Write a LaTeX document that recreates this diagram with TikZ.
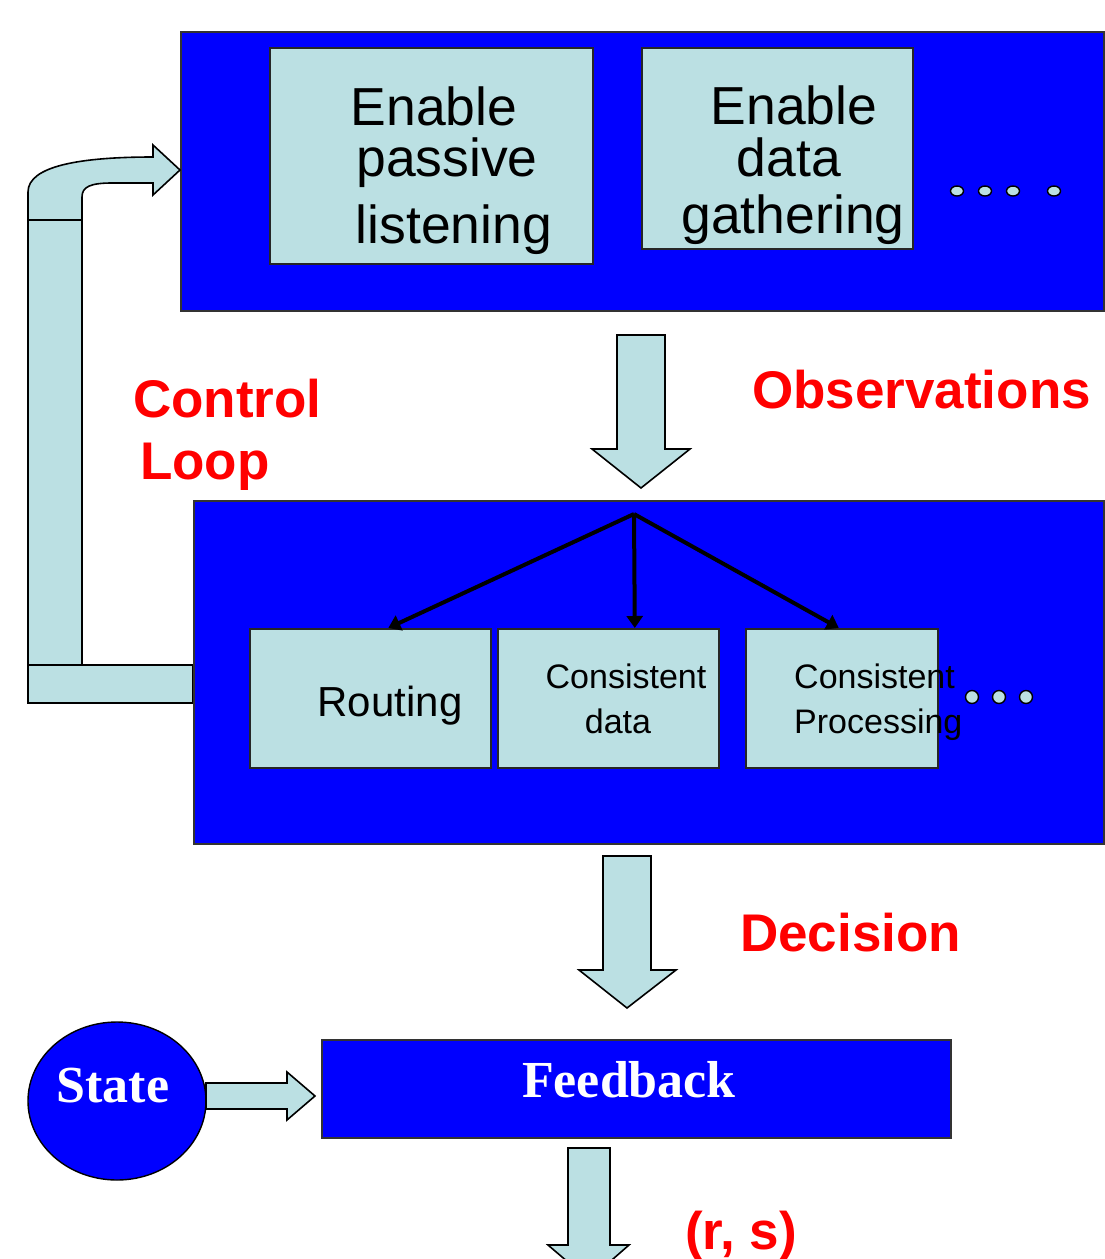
\documentclass[tikz,border=0pt]{standalone}
\usepackage{fontspec}
\setmainfont{Liberation Sans}
\newfontfamily\timesfont{Liberation Serif}
\usetikzlibrary{arrows.meta,calc}

\definecolor{panelblue}{RGB}{0,0,255}
\definecolor{paleteal}{RGB}{187,224,227}
\definecolor{labelred}{RGB}{255,0,0}

\tikzset{
  panel/.style={draw=black!80, line width=1.6pt, fill=panelblue, inner sep=0pt, anchor=north west},
  lbox/.style={draw=black!85, line width=1.6pt, fill=paleteal, inner sep=0pt, anchor=north west},
  blockarrow/.style={draw=black, line width=1.6pt, fill=paleteal, line join=miter},
  dotmark/.style={draw=black, line width=1.4pt, fill=paleteal},
  boxtext/.style={inner sep=0pt, anchor=base, font=\fontsize{53.5}{60}\selectfont},
  smalltext/.style={inner sep=0pt, font=\fontsize{34}{40}\selectfont},
  redlabel/.style={inner sep=0pt, anchor=base west, text=labelred, font=\fontsize{53}{60}\selectfont\bfseries},
  whitelabel/.style={inner sep=0pt, anchor=base, text=white, font=\fontsize{52}{60}\selectfont\timesfont\bfseries},
  fork/.style={line width=4pt, -{Triangle[length=12pt,width=16pt]}}
}

\begin{document}
\begin{tikzpicture}[x=1pt,y=-1pt]
\useasboundingbox (0,0) rectangle (1104,1259);

% ---- top panel: sensing ----
\node[panel, minimum width=923pt, minimum height=279pt] (sense) at (180,31) {};
\node[lbox, minimum width=323pt, minimum height=216pt] (listen) at (269,47) {};
\node[lbox, minimum width=271pt, minimum height=201pt] (gather) at (641,47) {};
\node[boxtext] (l1) at (434,125) {Enable};
\node[boxtext] (l2) at (447,176) {passive};
\node[boxtext] (l3) at (454,243) {listening};
\node[boxtext] (g1) at (794,124) {Enable};
\node[boxtext] (g2) at (789,176) {data};
\node[boxtext] (g3) at (793,233) {gathering};
\foreach \x in {957,985,1013,1054}
  \draw[dotmark] (\x,191) ellipse (6.5 and 5);

% ---- observations arrow ----
\draw[blockarrow] (617,335) -- (665,335) -- (665,449) -- (690,449) -- (641,488)
  -- (592,449) -- (617,449) -- cycle;
\node[redlabel] (obs) at (752,408) {Observations};

% ---- control loop ----
\node[redlabel] (ctl1) at (133,417) {Control};
\node[redlabel] (ctl2) at (140,479) {Loop};
\draw[blockarrow] (28,665) rectangle (193,703);
\draw[blockarrow] (28,220) rectangle (82,665);
\draw[blockarrow] (28,220) -- (28,192) .. controls (28,166) and (80,157) .. (153,157)
  -- (153,145) -- (180,170) -- (153,195) -- (153,183) -- (112,183)
  .. controls (90,183) and (82,187) .. (82,197) -- (82,220) -- cycle;

% ---- middle panel: decision logic ----
\node[panel, minimum width=910pt, minimum height=343pt] (logic) at (193,500) {};
\node[lbox, minimum width=241pt, minimum height=139pt] (route) at (249,628) {};
\node[lbox, minimum width=221pt, minimum height=139pt] (cdata) at (497,628) {};
\node[lbox, minimum width=192pt, minimum height=139pt] (cproc) at (745,628) {};
\node[boxtext, font=\fontsize{42}{50}\selectfont] (rtxt) at (390,716) {Routing};
\node[smalltext, anchor=base] (cd1) at (626,688) {Consistent};
\node[smalltext, anchor=base] (cd2) at (618,733) {data};
\node[smalltext, anchor=base west] (cp1) at (794,688) {Consistent};
\node[smalltext, anchor=base west] (cp2) at (794,733) {Processing};
\foreach \x in {972,999,1026}
  \draw[dotmark] (\x,697) circle (6.5);

\coordinate (split) at (634,514);
\draw[fork] (split) -- ($(route.north)+(18,0)$);
\draw[fork] (split) -- ($(cdata.north)+(26.5,0)$);
\draw[fork] (split) -- ($(cproc.north)+(-3,0)$);

% ---- decision arrow ----
\draw[blockarrow] (603,856) -- (651,856) -- (651,970) -- (676,970) -- (627,1008)
  -- (579,970) -- (603,970) -- cycle;
\node[redlabel] (dec) at (740,951) {Decision};

% ---- feedback stage ----
\draw[draw=black, line width=1.4pt, fill=panelblue] (117,1101) ellipse (89 and 79);
\node[whitelabel] (state) at (113,1102) {State};
\node[panel, minimum width=629pt, minimum height=98pt] (feedback) at (321,1039) {};
\node[whitelabel] (fbtxt) at (629,1097) {Feedback};
\draw[blockarrow] (206,1083) -- (287,1083) -- (287,1072) -- (315,1096) -- (287,1120)
  -- (287,1109) -- (206,1109) -- cycle;

% ---- output arrow ----
\draw[blockarrow] (568,1148) -- (610,1148) -- (610,1245) -- (629,1245) -- (589,1280)
  -- (548,1245) -- (568,1245) -- cycle;
\node[redlabel] (rs) at (685,1249) {(r, s)};
\end{tikzpicture}
\end{document}
